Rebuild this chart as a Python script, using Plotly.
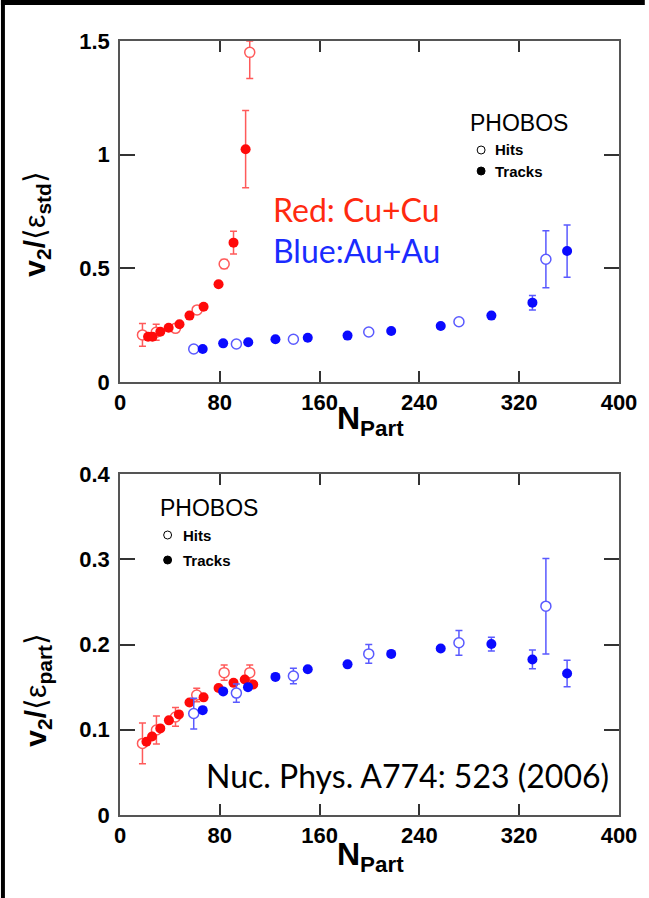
import plotly.graph_objects as go

# ---------------- data ----------------
x_ticks = [0, 80, 160, 240, 320, 400]
top_y_ticks = [0, 0.5, 1, 1.5]
top_y_labels = ["0", "0.5", "1", "1.5"]
bot_y_ticks = [0, 0.1, 0.2, 0.3, 0.4]
bot_y_labels = ["0", "0.1", "0.2", "0.3", "0.4"]

# Top panel: v2/<eps_std>
cu_hits_x_top = [18, 29, 44.5, 61.8, 83.5, 104]
cu_hits_y_top = [0.207, 0.219, 0.236, 0.317, 0.519, 1.45]
cu_hits_ep_top = [0.05, 0.035, 0.01, 0.01, 0.02, 0.05]
cu_hits_em_top = [0.05, 0.035, 0.01, 0.01, 0.02, 0.115]
cu_trk_x_top = [22.5, 26, 32.3, 39, 47.7, 55.7, 67, 79, 91, 100.7]
cu_trk_y_top = [0.199, 0.199, 0.221, 0.239, 0.254, 0.292, 0.331, 0.43, 0.613, 1.024]
cu_trk_e_top = [0, 0, 0, 0, 0, 0, 0, 0, 0.05, 0.17]
au_hits_x_top = [59.1, 93.3, 139.0, 199.4, 271.7, 341.4]
au_hits_y_top = [0.145, 0.167, 0.188, 0.22, 0.265, 0.54]
au_hits_e_top = [0, 0, 0, 0, 0, 0.125]
au_trk_x_top = [66.3, 82.7, 102.8, 124.6, 150.5, 182.4, 217.4, 257.1, 297.7, 330.6, 358.4]
au_trk_y_top = [0.145, 0.170, 0.175, 0.188, 0.195, 0.204, 0.224, 0.246, 0.292, 0.349, 0.576]
au_trk_e_top = [0, 0, 0, 0, 0, 0, 0, 0, 0, 0.032, 0.115]

# Bottom panel: v2/<eps_part>
cu_hits_x_bot = [18, 29.2, 44.5, 61.5, 83.5, 104]
cu_hits_y_bot = [0.084, 0.0997, 0.115, 0.1407, 0.167, 0.167]
cu_hits_e_bot = [0.024, 0.0165, 0.011, 0.008, 0.009, 0.009]
cu_trk_x_bot = [21.2, 25.7, 32.3, 39.2, 47.2, 55.7, 67, 79, 91, 100, 106.8]
cu_trk_y_bot = [0.086, 0.092, 0.1016, 0.111, 0.118, 0.132, 0.138, 0.149, 0.155, 0.159, 0.153]
au_hits_x_bot = [59.1, 93.3, 139.0, 199.4, 271.7, 341.4]
au_hits_y_bot = [0.119, 0.143, 0.163, 0.189, 0.202, 0.245]
au_hits_e_bot = [0.018, 0.0107, 0.009, 0.011, 0.0145, 0.056]
au_trk_x_bot = [66.3, 82.7, 102.6, 124.6, 150.5, 182.4, 217.4, 257.1, 297.7, 330.6, 358.4]
au_trk_y_bot = [0.123, 0.145, 0.150, 0.162, 0.171, 0.1767, 0.189, 0.1954, 0.2005, 0.1825, 0.166]
au_trk_e_bot = [0, 0, 0, 0, 0, 0, 0, 0, 0.008, 0.011, 0.0156]

# ---------------- style ----------------
W, H = 649, 898
ML, MR, MT, MB = 120, 26, 41, 83
PW, PH = W - ML - MR, H - MT - MB
RED, RED_OPEN = "#ff0a0a", "#ff5a5a"
BLUE, BLUE_OPEN = "#0a0aff", "#5a5aff"
MS = 10
TICKFONT = dict(family="Liberation Sans, Arial, sans-serif", size=22, color="black", weight="bold")
TEXTFONT = "Lato, Open Sans, sans-serif"


def px(x):
    return (x - ML) / PW


def py(y):
    return (H - MB - y) / PH


fig = go.Figure()


def add(xs, ys, ep, em, color, ecolor, hollow, xa, ya):
    fig.add_trace(go.Scatter(
        x=xs, y=ys, mode="markers", xaxis=xa, yaxis=ya, showlegend=False,
        marker=dict(symbol="circle", size=MS,
                    color="white" if hollow else color,
                    line=dict(color=color, width=1.5 if hollow else 0)),
        error_y=dict(type="data", symmetric=False, array=ep, arrayminus=em,
                     color=ecolor, thickness=1.5, width=3.5),
        cliponaxis=True,
    ))


# top panel
add(cu_hits_x_top, cu_hits_y_top, cu_hits_ep_top, cu_hits_em_top, RED_OPEN, RED_OPEN, True, "x", "y")
add(cu_trk_x_top, cu_trk_y_top, cu_trk_e_top, cu_trk_e_top, RED, RED_OPEN, False, "x", "y")
add(au_hits_x_top, au_hits_y_top, au_hits_e_top, au_hits_e_top, BLUE_OPEN, BLUE_OPEN, True, "x", "y")
add(au_trk_x_top, au_trk_y_top, au_trk_e_top, au_trk_e_top, BLUE, BLUE_OPEN, False, "x", "y")
# bottom panel
add(cu_hits_x_bot, cu_hits_y_bot, cu_hits_e_bot, cu_hits_e_bot, RED_OPEN, RED_OPEN, True, "x2", "y2")
add(cu_trk_x_bot, cu_trk_y_bot, [0] * len(cu_trk_x_bot), [0] * len(cu_trk_x_bot), RED, RED_OPEN, False, "x2", "y2")
add(au_hits_x_bot, au_hits_y_bot, au_hits_e_bot, au_hits_e_bot, BLUE_OPEN, BLUE_OPEN, True, "x2", "y2")
add(au_trk_x_bot, au_trk_y_bot, au_trk_e_bot, au_trk_e_bot, BLUE, BLUE_OPEN, False, "x2", "y2")

axis_common = dict(showgrid=False, zeroline=False, showline=True, linecolor="#555", linewidth=1.5,
                   mirror="ticks", ticks="inside", tickcolor="#333", tickwidth=1.5,
                   tickfont=TICKFONT)

top_dom = [py(382), 1.0]
bot_dom = [0.0, py(474)]

fig.update_layout(
    width=W, height=H,
    margin=dict(l=ML, r=MR, t=MT, b=MB, pad=0),
    paper_bgcolor="white", plot_bgcolor="white",
    xaxis=dict(axis_common, domain=[0, 1], range=[0, 400], tickvals=x_ticks, ticklen=11,
               anchor="y", ticklabelstandoff=0),
    yaxis=dict(axis_common, domain=top_dom, range=[0, 1.5], tickvals=top_y_ticks,
               ticktext=top_y_labels, ticklen=15, anchor="x", ticklabelstandoff=4),
    xaxis2=dict(axis_common, domain=[0, 1], range=[0, 400], tickvals=x_ticks, ticklen=11,
                anchor="y2", ticklabelstandoff=0),
    yaxis2=dict(axis_common, domain=bot_dom, range=[0, 0.4], tickvals=bot_y_ticks,
                ticktext=bot_y_labels, ticklen=15, anchor="x2", ticklabelstandoff=4),
)

ann = []
title_font = dict(family="Liberation Sans, Arial, sans-serif", size=32, color="black")
ann.append(dict(text="<b>N<sub>Part</sub></b>", x=px(373), y=py(420), xref="paper", yref="paper",
                showarrow=False, xanchor="center", yanchor="middle", font=title_font))
ann.append(dict(text="<b>N<sub>Part</sub></b>", x=px(373), y=py(856), xref="paper", yref="paper",
                showarrow=False, xanchor="center", yanchor="middle", font=title_font))
ytitle_font = dict(family="Liberation Sans, Arial, sans-serif", size=30, color="black")
ann.append(dict(text="<b>v<sub>2</sub>/</b>⟨ε<sub><b>std</b></sub>⟩", x=px(36), y=py(224),
                xref="paper", yref="paper", showarrow=False, textangle=-90,
                xanchor="center", yanchor="middle", font=ytitle_font))
ann.append(dict(text="<b>v<sub>2</sub>/</b>⟨ε<sub><b>part</b></sub>⟩", x=px(36), y=py(690),
                xref="paper", yref="paper", showarrow=False, textangle=-90,
                xanchor="center", yanchor="middle", font=ytitle_font))
ann.append(dict(text="Red: Cu+Cu", x=px(272), y=py(210), xref="paper", yref="paper", showarrow=False,
                xanchor="left", yanchor="middle", font=dict(family=TEXTFONT, size=32, color="#ff2a10")))
ann.append(dict(text="Blue:Au+Au", x=px(272), y=py(250), xref="paper", yref="paper", showarrow=False,
                xanchor="left", yanchor="middle", font=dict(family=TEXTFONT, size=32, color="#1a2cff")))
ann.append(dict(text="Nuc. Phys. A774: 523 (2006)", x=px(205), y=py(775), xref="paper", yref="paper",
                showarrow=False, xanchor="left", yanchor="middle",
                font=dict(family=TEXTFONT, size=32, color="black")))

shapes = []


def legend_block(cx_phobos, y_phobos, cx_circle, y_hits, y_tracks, x_text):
    ann.append(dict(text="PHOBOS", x=px(cx_phobos), y=py(y_phobos), xref="paper", yref="paper",
                    showarrow=False, xanchor="center", yanchor="middle",
                    font=dict(family="Liberation Sans, Arial, sans-serif", size=23, color="black")))
    for label, yy in (("Hits", y_hits), ("Tracks", y_tracks)):
        ann.append(dict(text="<b>%s</b>" % label, x=px(x_text), y=py(yy), xref="paper", yref="paper",
                        showarrow=False, xanchor="left", yanchor="middle",
                        font=dict(family="Liberation Sans, Arial, sans-serif", size=15, color="black")))
    r = 4
    shapes.append(dict(type="circle", xref="paper", yref="paper",
                       x0=px(cx_circle - r), x1=px(cx_circle + r), y0=py(y_hits + r), y1=py(y_hits - r),
                       line=dict(color="black", width=1), fillcolor="white"))
    shapes.append(dict(type="circle", xref="paper", yref="paper",
                       x0=px(cx_circle - r), x1=px(cx_circle + r), y0=py(y_tracks + r), y1=py(y_tracks - r),
                       line=dict(color="black", width=1), fillcolor="black"))


legend_block(522, 123, 484, 150, 171, 496)
legend_block(210, 508, 168, 535, 560, 181)

# black frame strips at top and left edge of the picture
shapes.append(dict(type="rect", xref="paper", yref="paper", x0=px(0), x1=px(W), y0=py(5), y1=py(0),
                   fillcolor="black", line=dict(width=0), layer="above"))
shapes.append(dict(type="rect", xref="paper", yref="paper", x0=px(0), x1=px(4), y0=py(H), y1=py(0),
                   fillcolor="black", line=dict(width=0), layer="above"))

fig.update_layout(annotations=ann, shapes=shapes)
fig.write_html("out.html", config={"displayModeBar": False})
